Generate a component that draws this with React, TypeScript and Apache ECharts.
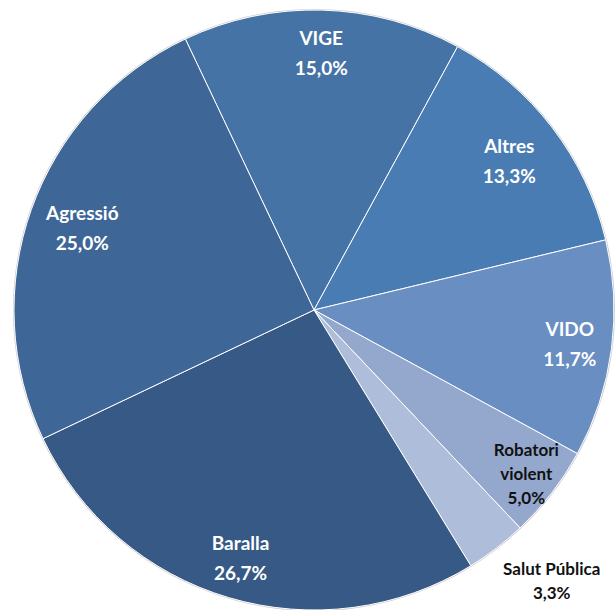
import React, { useEffect, useRef } from "react";
import * as echarts from "echarts";

const categories = ["VIGE", "Altres", "VIDO", "Robatori violent", "Salut Pública", "Baralla", "Agressió"];
const values = [15.0, 13.3, 11.7, 5.0, 3.3, 26.7, 25.0];
const colors = ["#4673A5", "#4A7CB4", "#688EC2", "#94A8CE", "#AEBEDA", "#365985", "#3E6798"];
const labelNames = ["VIGE", "Altres", "VIDO", "Robatori\nviolent", "Salut Pública", "Baralla", "Agressió"];
const darkLabel = ["Robatori violent", "Salut Pública"];

const groupMid = ["VIGE", "VIDO", "Baralla"];
const groupInner = ["Agressió", "Altres"];
const groupRim = ["Robatori violent"];
const groupOuter = ["Salut Pública"];

const fmt = (v: number) => v.toFixed(1).replace(".", ",") + "%";

export default function App() {
  const ref = useRef<HTMLDivElement>(null);
  useEffect(() => {
    if (!ref.current) return;
    const chart = echarts.init(ref.current, null, { renderer: "svg" });
    const cx = 314, cy = 310, R = 300;
    const baseData = categories.map((c, i) => ({ name: c, value: values[i] }));
    const labelSeries = (names: string[], r0: number, r1: number, offset?: number[]) => ({
      type: "pie",
      silent: true,
      center: [cx, cy],
      radius: [r0, r1],
      startAngle: 115.4,
      clockwise: true,
      avoidLabelOverlap: false,
      z: 5,
      itemStyle: { color: "transparent", borderWidth: 0 },
      labelLine: { show: false },
      data: baseData.map((d, i) => {
        const show = names.includes(d.name);
        const dark = darkLabel.includes(d.name);
        return {
          ...d,
          label: {
            show,
            position: "inside",
            formatter: labelNames[i] + "\n" + fmt(values[i]),
            color: dark ? "#111111" : "#ffffff",
            fontFamily: "Lato, 'Open Sans', sans-serif",
            fontWeight: "bold",
            fontSize: dark ? 17 : 19,
            lineHeight: dark ? 24 : 30,
            align: "center",
            offset: offset || [0, 0],
          },
        };
      }),
    });
    chart.setOption({
      animation: false,
      backgroundColor: "#ffffff",
      series: [
        {
          type: "pie",
          silent: true,
          center: [cx, cy],
          radius: [0, R + 1],
          z: 1,
          itemStyle: { color: "#c9c9c9" },
          label: { show: false },
          labelLine: { show: false },
          data: [{ name: "outline", value: 1 }],
        },
        {
          type: "pie",
          center: [cx, cy],
          radius: [0, R],
          startAngle: 115.4,
          clockwise: true,
          z: 2,
          label: { show: false },
          labelLine: { show: false },
          itemStyle: { borderColor: "#ffffff", borderWidth: 1 },
          data: baseData.map((d, i) => ({ ...d, itemStyle: { color: colors[i] } })),
        },
        labelSeries(groupMid, 210, 300),
        labelSeries(groupInner, 186, 300),
        labelSeries(groupRim, 230, 300),
        labelSeries(groupOuter, 300, 400, [23, -10]),
      ],
    });
    return () => chart.dispose();
  }, []);
  return (
    <div
      ref={ref}
      style={{ position: "fixed", left: 0, top: 0, width: 615, height: 610 }}
    />
  );
}
